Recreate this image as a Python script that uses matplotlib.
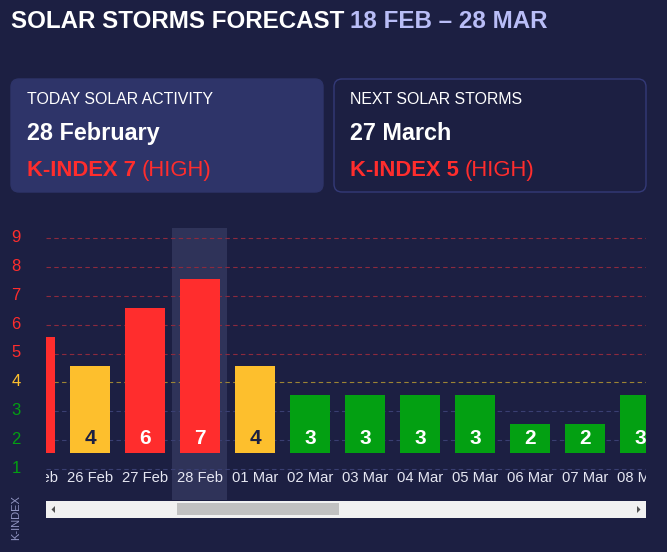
import matplotlib
matplotlib.use("Agg")
import matplotlib.pyplot as plt
from matplotlib.patches import FancyBboxPatch, Rectangle, Polygon

plt.rcParams['font.family'] = ['Liberation Sans', 'DejaVu Sans']

# Daten
dates = ["25 Feb", "26 Feb", "27 Feb", "28 Feb", "01 Mar", "02 Mar",
         "03 Mar", "04 Mar", "05 Mar", "06 Mar", "07 Mar", "08 Mar"]
k_index = [5, 4, 6, 7, 4, 3, 3, 3, 3, 2, 2, 3]
today_idx = 3
y_levels = list(range(1, 10))

title_main = "SOLAR STORMS FORECAST"
title_range = "18 FEB \u2013 28 MAR"
cards = [
    ("TODAY SOLAR ACTIVITY", "28 February", "K-INDEX 7", "(HIGH)"),
    ("NEXT SOLAR STORMS", "27 March", "K-INDEX 5", "(HIGH)"),
]

# Farben
BG = "#1c1f42"
RED = "#ff2d2d"
YELLOW = "#fdbf2d"
GREEN = "#03a012"


def level_color(v):
    if v >= 5:
        return RED
    if v == 4:
        return YELLOW
    return GREEN


def grid_color(v):
    if v >= 5:
        return "#8c2a3e"
    if v == 4:
        return "#9c8434"
    return "#3a3f72"


W, H = 667, 552
fig = plt.figure(figsize=(W / 100, H / 100), dpi=100, facecolor=BG)

# Overlay in Pixelkoordinaten
ov = fig.add_axes([0, 0, 1, 1], zorder=0)
ov.set_xlim(0, W)
ov.set_ylim(H, 0)
ov.axis("off")

t1 = ov.text(11, 27.5, title_main, color="white", fontsize=17.4,
             fontweight="bold", va="baseline", ha="left")
ov.annotate(title_range, xy=(1, 0), xycoords=t1, xytext=(6, 0),
            textcoords="offset pixels", color="#b9bdf7", fontsize=17.4,
            fontweight="bold", va="bottom", ha="left")

card_x = [11, 334]
for (sub, day, kval, level), cx in zip(cards, card_x):
    filled = cx == 11
    box = FancyBboxPatch((cx, 79), 312, 113,
                         boxstyle="round,pad=0,rounding_size=8",
                         facecolor="#2e3469" if filled else BG,
                         edgecolor="#2e3469" if filled else "#343a78",
                         linewidth=1.0)
    ov.add_patch(box)
    tx = cx + 16
    ov.text(tx, 104, sub, color="white", fontsize=11.4, va="baseline")
    ov.text(tx, 140, day, color="white", fontsize=16.8, fontweight="bold",
            va="baseline")
    kt = ov.text(tx, 176, kval, color=RED, fontsize=15.8, fontweight="bold",
                 va="baseline")
    ov.annotate(level, xy=(1, 0), xycoords=kt, xytext=(6, 0),
                textcoords="offset pixels", color=RED, fontsize=15.8,
                va="bottom", ha="left")

# Scrollbar
ov.add_patch(Rectangle((46, 501), 600, 17, facecolor="#f1f1f1", edgecolor="none"))
ov.add_patch(Rectangle((177, 503), 162, 12, facecolor="#c1c1c1", edgecolor="none"))
ov.add_patch(Polygon([(55, 506), (55, 513), (51.5, 509.5)], closed=True,
                     facecolor="#505050", edgecolor="none"))
ov.add_patch(Polygon([(637, 506), (637, 513), (640.5, 509.5)], closed=True,
                     facecolor="#505050", edgecolor="none"))

ov.text(16, 518, "K-INDEX", color="#9094c2", fontsize=8, rotation=90,
        ha="center", va="center")

# Diagramm
px_per_unit = (469 - 238) / 8
ax_top_px, ax_bot_px = 228, 500
ax = fig.add_axes([46 / W, (H - ax_bot_px) / H, 600 / W,
                   (ax_bot_px - ax_top_px) / H], zorder=1)
ax.set_facecolor("none")
for s in ax.spines.values():
    s.set_visible(False)
ax.set_xticks([])
ax.set_yticks([])

x0 = (46 - 35) / 55
x1 = (646 - 35) / 55
ax.set_xlim(x0, x1)
ax.set_ylim(1 - (ax_bot_px - 469) / px_per_unit, 9 + (238 - ax_top_px) / px_per_unit)

ax.axvspan(today_idx - 0.5, today_idx + 0.5, color="#2f3359", zorder=0, linewidth=0)

for v in y_levels:
    ax.axhline(v, color=grid_color(v), linewidth=0.8, linestyle=(0, (4, 3)),
               zorder=1)
    ax.text(-30 / 600, v + 0.02, str(v), color=level_color(v), fontsize=12,
            ha="center", va="center", transform=ax.get_yaxis_transform(),
            clip_on=False)

base = 1.57
xs = list(range(len(dates)))
ax.bar(xs, [v - 1 for v in k_index], bottom=base, width=40 / 55,
       color=[level_color(v) for v in k_index], zorder=2, linewidth=0)

for i, v in enumerate(k_index):
    tc = BG if v == 4 else "white"
    ax.text(i, base + 0.5, str(v), color=tc, fontsize=15, fontweight="bold",
            ha="center", va="center", zorder=3, clip_on=True)
    ax.text(i, 1 - 9 / px_per_unit, dates[i], color="#e6e7f2", fontsize=10.6,
            ha="center", va="center", zorder=3, clip_on=True)

fig.savefig("out.png", dpi=100, facecolor=BG)
